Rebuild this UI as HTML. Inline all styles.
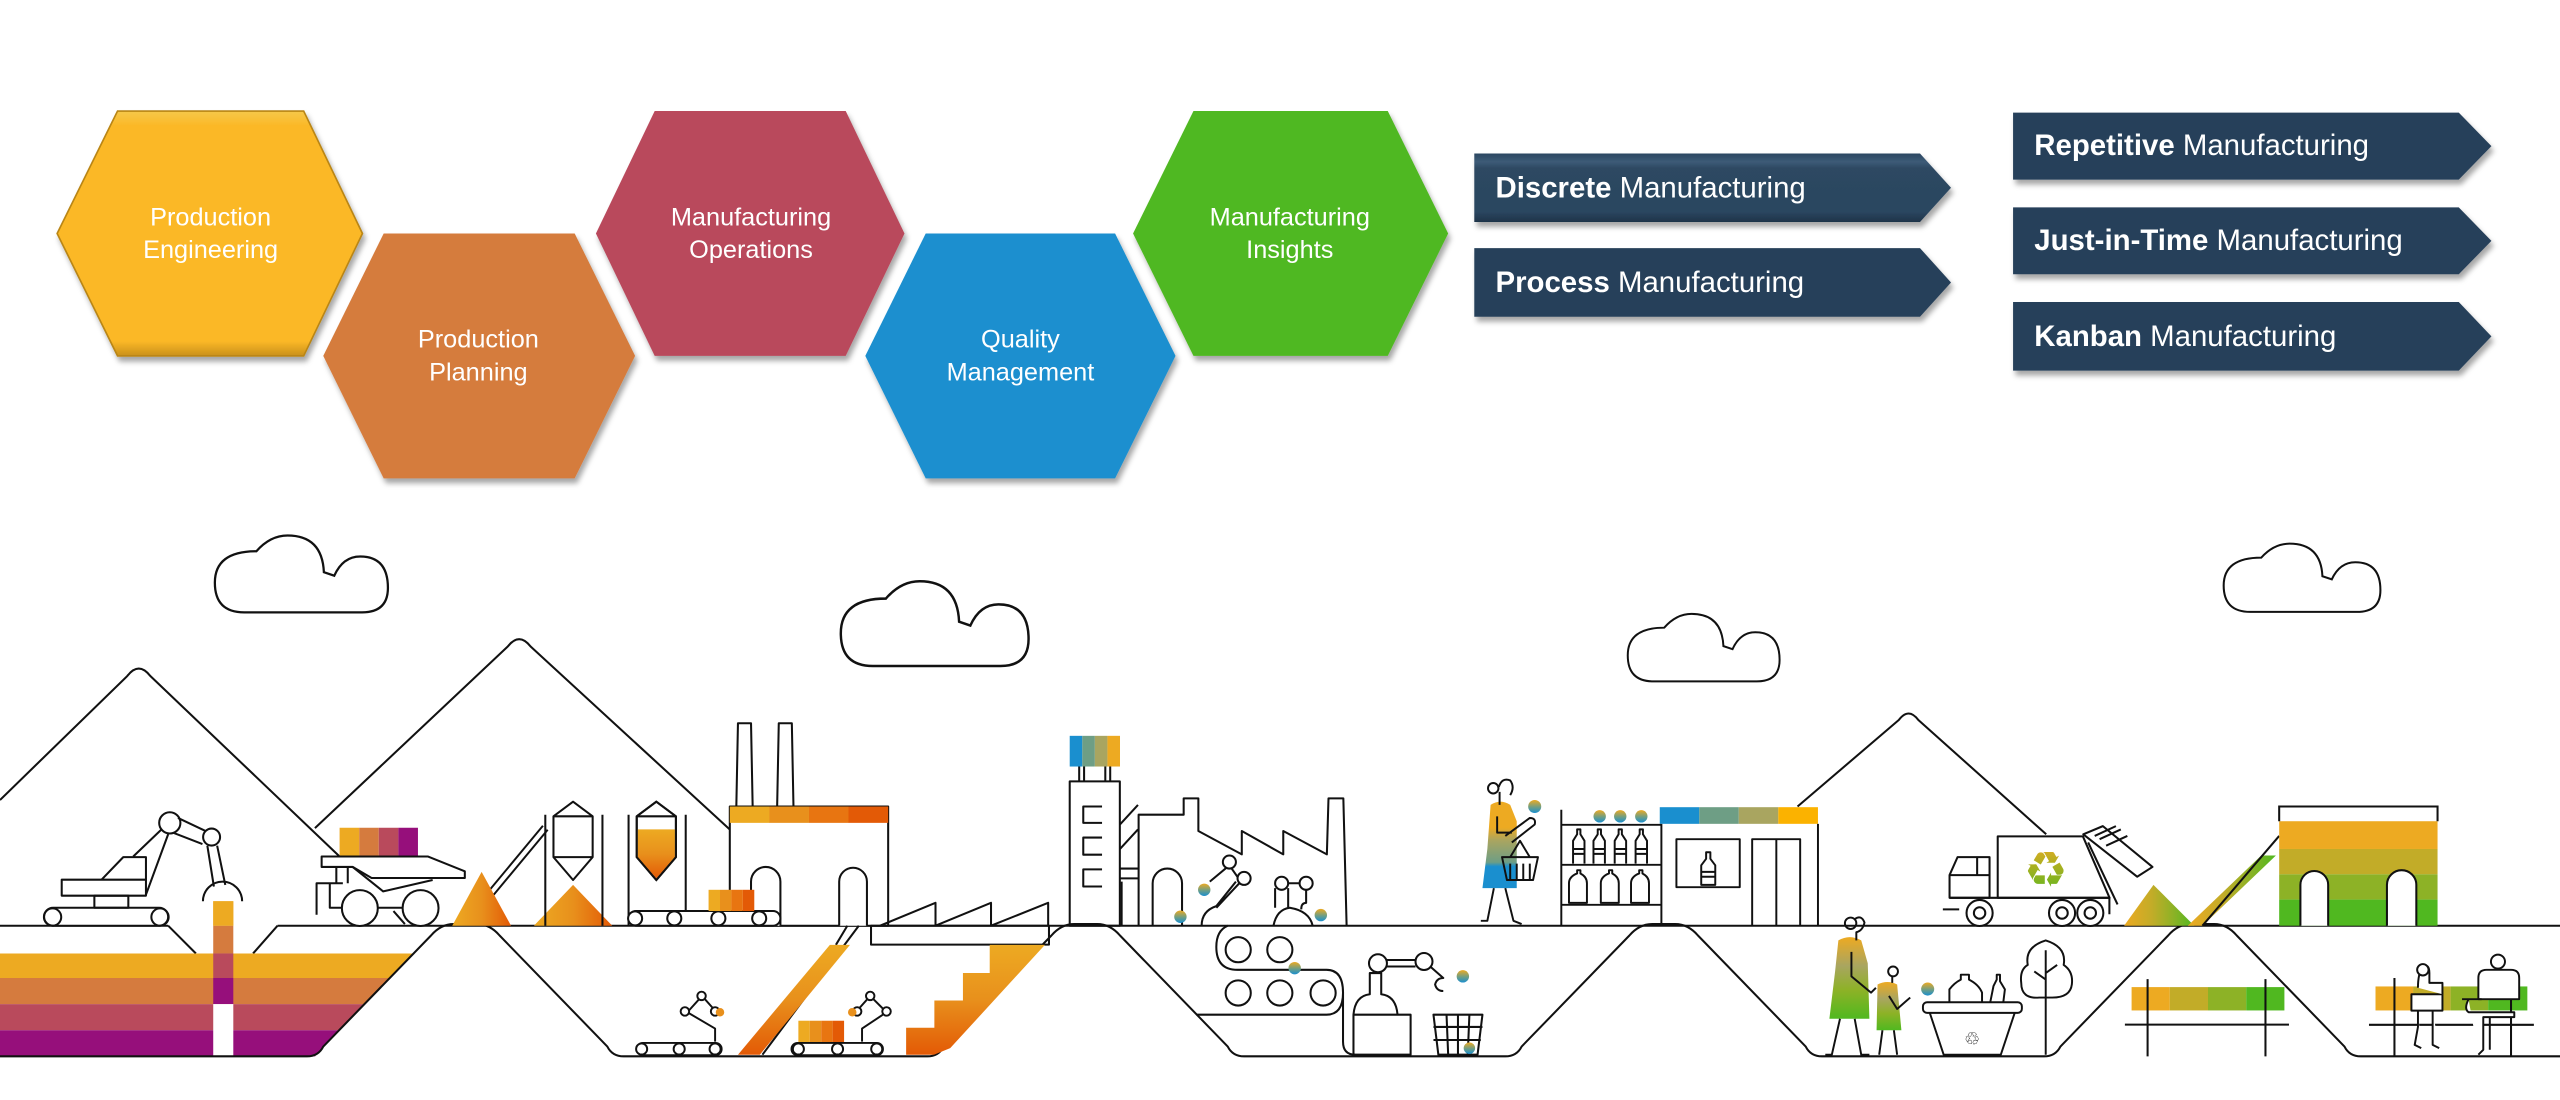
<!DOCTYPE html>
<html><head><meta charset="utf-8"><style>
html,body{margin:0;padding:0;background:#fff;overflow:hidden;width:2560px;height:1100px}
svg{display:block}
.t{font-family:"Liberation Sans",sans-serif;fill:#fff}
</style></head><body>
<svg width="2560" height="1100" viewBox="0 0 1568 673.75" preserveAspectRatio="none" xmlns="http://www.w3.org/2000/svg">
<defs>
<filter id="sh" x="-10%" y="-10%" width="130%" height="140%"><feDropShadow dx="1.5" dy="3" stdDeviation="1.6" flood-color="#000" flood-opacity=".35"/></filter>
<linearGradient id="gCone" x1="0" y1="0" x2="1" y2="0"><stop offset="0" stop-color="#EDAA22"/><stop offset=".5" stop-color="#E8901C"/><stop offset="1" stop-color="#E35A06"/></linearGradient>
<linearGradient id="gOr" x1="0" y1="0" x2="0" y2="1"><stop offset="0" stop-color="#EDAA22"/><stop offset=".5" stop-color="#E8901C"/><stop offset="1" stop-color="#E35A06"/></linearGradient>
<linearGradient id="gBall" x1="0" y1="0" x2="0" y2="1"><stop offset="0" stop-color="#EDAA22"/><stop offset=".55" stop-color="#6E9E85"/><stop offset="1" stop-color="#1A8FCF"/></linearGradient>
<linearGradient id="gWoman" x1="0" y1="0" x2="0" y2="1"><stop offset="0" stop-color="#EDAA22"/><stop offset=".3" stop-color="#EDAA22"/><stop offset=".45" stop-color="#A9A560"/><stop offset=".7" stop-color="#6E9E85"/><stop offset=".75" stop-color="#1A8FCF"/><stop offset="1" stop-color="#1A8FCF"/></linearGradient>
<linearGradient id="gMom" x1="0" y1="0" x2="0" y2="1"><stop offset="0" stop-color="#EDAA22"/><stop offset=".35" stop-color="#A9A560"/><stop offset=".65" stop-color="#8DB226"/><stop offset="1" stop-color="#50B820"/></linearGradient>
<linearGradient id="gPile" x1="0" y1="0" x2="1" y2="0"><stop offset="0" stop-color="#EDAA22"/><stop offset=".4" stop-color="#C2AC28"/><stop offset=".7" stop-color="#8DB226"/><stop offset="1" stop-color="#50B820"/></linearGradient>
<linearGradient id="gRec" x1="0" y1="0" x2="0" y2="1"><stop offset="0" stop-color="#EDAA22"/><stop offset="1" stop-color="#50B820"/></linearGradient>
<linearGradient id="gBan" x1="0" y1="0" x2="0" y2="1"><stop offset="0" stop-color="#2B4761"/><stop offset=".12" stop-color="#3D5B77"/><stop offset=".22" stop-color="#2D4862"/><stop offset=".85" stop-color="#2B4660"/><stop offset="1" stop-color="#1E3348"/></linearGradient>
<linearGradient id="gHex" x1="0" y1="0" x2="0" y2="1"><stop offset="0" stop-color="#F6C84A"/><stop offset=".06" stop-color="#FBB827"/><stop offset=".94" stop-color="#FBB827"/><stop offset="1" stop-color="#C9901A"/></linearGradient>
<path id="cl" d="M17,44 Q0,44 0,27 Q0,9 24,9 Q32,0 42,0 Q62,0 63,21 L69,23 Q74,12 84,12 Q100,12 100,30 Q100,44 85,44 Z"/>
</defs>

<g filter="url(#sh)">
<polygon points="35,143 72,68 186,68 222,143 186,218 72,218" fill="url(#gHex)" stroke="#B98512" stroke-width="1"/>
<polygon points="198,218 235,143 352,143 389,218 352,293 235,293" fill="#D57B3E"/>
<polygon points="365,143 401,68 518,68 554,143 518,218 401,218" fill="#B94A5C"/>
<polygon points="530,218 567,143 683,143 720,218 683,293 567,293" fill="#1A8FCF"/>
<polygon points="694,143 731,68 850,68 887,143 850,218 731,218" fill="#50B820"/>
</g>
<g class="t" font-size="15.5" text-anchor="middle">
<text x="129" y="138">Production</text><text x="129" y="158">Engineering</text>
<text x="293" y="213">Production</text><text x="293" y="233">Planning</text>
<text x="460" y="138">Manufacturing</text><text x="460" y="158">Operations</text>
<text x="625" y="213">Quality</text><text x="625" y="233">Management</text>
<text x="790" y="138">Manufacturing</text><text x="790" y="158">Insights</text>
</g>

<g filter="url(#sh)">
<polygon points="903,94 1176,94 1195,115 1176,136 903,136" fill="url(#gBan)"/>
<polygon points="903,152 1176,152 1195,173 1176,194 903,194" fill="#28415A"/>
<polygon points="1233,69 1506,69 1526,89.5 1506,110 1233,110" fill="#28415A"/>
<polygon points="1233,127 1506,127 1526,147.5 1506,168 1233,168" fill="#28415A"/>
<polygon points="1233,185 1506,185 1526,206 1506,227 1233,227" fill="#28415A"/>
</g>
<g class="t" font-size="18">
<text x="916" y="121"><tspan font-weight="bold">Discrete</tspan> Manufacturing</text>
<text x="916" y="179"><tspan font-weight="bold">Process</tspan> Manufacturing</text>
<text x="1246" y="95"><tspan font-weight="bold">Repetitive</tspan> Manufacturing</text>
<text x="1246" y="153"><tspan font-weight="bold">Just-in-Time</tspan> Manufacturing</text>
<text x="1246" y="212"><tspan font-weight="bold">Kanban</tspan> Manufacturing</text>
</g>

<g fill="#fff" stroke="#111" stroke-width="1.3">
<use href="#cl" transform="translate(131.6,328) scale(1.06,1.07)"/>
<use href="#cl" transform="translate(515,356) scale(1.15,1.18)"/>
<use href="#cl" transform="translate(997,376) scale(0.93,0.94)"/>
<use href="#cl" transform="translate(1362,333) scale(0.96,0.95)"/>
</g>

<g fill="none" stroke="#111" stroke-width="1.25" stroke-linejoin="round">
<path d="M0,490 L78,414 Q85,405 92,414 L208,524.6"/>
<path d="M192.9,507.2 L311,396 Q318,387 325,396 L448,509"/>
<path d="M1101,494 L1163,441 Q1169,433 1175,441 L1253.3,511"/>
<path d="M0,567 H103 M170,567 H1568"/>
<path d="M103,567 L120,584 M170,567 L155,584"/>
</g>

<polygon points="0,584 253,584 239,599 0,599" fill="#EDAA22"/>
<polygon points="0,599 239,599 223,615 0,615" fill="#D57B3E"/>
<polygon points="0,615 223,615 208,631 0,631" fill="#B94A5C"/>
<polygon points="0,631 208,631 198,641 193,647 0,647" fill="#960F7B"/>
<rect x="130.6" y="552" width="12.3" height="15" fill="#EDAA22"/>
<rect x="130.6" y="567" width="12.3" height="17" fill="#D57B3E"/>
<rect x="130.6" y="584" width="12.3" height="15" fill="#B94A5C"/>
<rect x="130.6" y="599" width="12.3" height="16" fill="#960F7B"/>
<rect x="130.6" y="615" width="12.3" height="32" fill="#fff"/>

<g fill="none" stroke="#111" stroke-width="1.25" stroke-linejoin="round">
<path d="M0,647 H188 Q195,647 198,641 L264,573 Q270,566 278,566 H292 Q300,566 306,573 L372,641 Q375,647 382,647 H568 Q575,647 578,641 L644,573 Q650,566 658,566 H672 Q680,566 686,573 L752,641 Q755,647 762,647 H922 Q929,647 932,641 L998,573 Q1004,566 1012,566 H1026 Q1034,566 1040,573 L1106,641 Q1109,647 1116,647 H1252 Q1259,647 1262,641 L1328,573 Q1334,566 1342,566 H1356 Q1364,566 1370,573 L1436,641 Q1439,647 1446,647 H1568"/>

<rect x="27" y="556" width="76" height="11" rx="5.5" fill="#fff"/>
<circle cx="32.2" cy="561.7" r="5.3"/><circle cx="98" cy="561.7" r="5.3"/>
<rect x="57.8" y="548.6" width="20.8" height="7.4"/>
<rect x="37.8" y="538.8" width="51.6" height="9.8"/>
<path d="M62.2,538.8 L75.5,525 H89.4 V538.8"/>
<path d="M81.6,524.6 L100,507 M89.4,548 L103,511"/>
<circle cx="104" cy="504" r="6.5" fill="#fff"/>
<path d="M109,501 L126,509 M106,510 L124,517"/>
<circle cx="129.6" cy="512.7" r="5.2" fill="#fff"/>
<path d="M127,518 L131,543 M133,518 L138,542"/>
<path d="M124.3,552 A12,12 0 0 1 148.3,552"/>
</g>
<rect x="130.6" y="552" width="12.3" height="15" fill="#EDAA22"/>

<rect x="208" y="507" width="12" height="17.6" fill="#EDAA22"/>
<rect x="220" y="507" width="12" height="17.6" fill="#D57B3E"/>
<rect x="232" y="507" width="12" height="17.6" fill="#B94A5C"/>
<rect x="244" y="507" width="12" height="17.6" fill="#960F7B"/>
<g fill="none" stroke="#111" stroke-width="1.25" stroke-linejoin="round">
<path d="M197,524.6 H262 L284.7,533.7 V537.8 H227.6 L216,531 H197 Z" fill="#fff"/>
<path d="M206,531 V541 M213,531 V541 M216,531 L234.7,546 L265,539"/>
<path d="M193.9,560.3 V541 H210 M202,541 V556 H212"/>
<circle cx="220.4" cy="556.2" r="11" fill="#fff"/><circle cx="257.6" cy="556.2" r="11" fill="#fff"/>
<path d="M231,556 H247 M241,558 L248,566"/>
</g>

<path d="M290,560 L334,507" stroke="#111" stroke-width="5"/>
<path d="M290,560 L334,507" stroke="#fff" stroke-width="2.6"/>
<polygon points="277,567 295,534 313,567" fill="url(#gCone)"/>
<polygon points="327,567 351,542 375,567" fill="url(#gCone)"/>

<g fill="#fff" stroke="#111" stroke-width="1.25" stroke-linejoin="round">
<path d="M334,499 V567 M369,499 V567 M385,499 V567 M420,499 V567" fill="none"/>
<path d="M339,500 L351,491 L363,500 V525 L351,539 L339,525 Z"/>
<path d="M339,500 H363 M339,525 H363" fill="none"/>
<path d="M390,500 L402,491 L414,500 V525 L402,539 L390,525 Z"/>
</g>
<path d="M390.6,508 H413.4 V525 L402,538 L390.6,525 Z" fill="url(#gOr)"/>
<path d="M390,500 L402,491 L414,500 V525 L402,539 L390,525 Z M390,500 H414" fill="none" stroke="#111" stroke-width="1.25"/>

<g fill="#fff" stroke="#111" stroke-width="1.25" stroke-linejoin="round">
<path d="M451,494 L452,443 H460 L461,494 M476,494 L477,443 H485 L486,494"/>
<rect x="447" y="494" width="97" height="73"/>
<path d="M460,567 V540 A9,9 0 0 1 478,540 V567 M514,567 V540 A8.5,8.5 0 0 1 531,540 V567"/>
<rect x="385" y="558" width="93" height="9" rx="4.5"/>
<circle cx="389" cy="562.5" r="4.3"/><circle cx="413" cy="562.5" r="4.3"/><circle cx="440" cy="562.5" r="4.3"/><circle cx="465" cy="562.5" r="4.3"/>
</g>
<rect x="447" y="494" width="24.3" height="10" fill="#EDAA22"/>
<rect x="471.2" y="494" width="24.3" height="10" fill="#E8901C"/>
<rect x="495.5" y="494" width="24.3" height="10" fill="#E87511"/>
<rect x="519.7" y="494" width="24.3" height="10" fill="#E35A06"/>
<rect x="434" y="545" width="7" height="13" fill="#EDAA22"/><rect x="441" y="545" width="7" height="13" fill="#E8901C"/><rect x="448" y="545" width="7" height="13" fill="#E87511"/><rect x="455" y="545" width="7" height="13" fill="#E35A06"/>

<g fill="none" stroke="#111" stroke-width="1.25" stroke-linejoin="round">
<path d="M539,567 L573,553 V567 M573,567 L607,553 V567 M607,567 L642,553 V567"/>
<rect x="533.5" y="567" width="109" height="11.6"/>
<path d="M519,567 L512,578.7 M526,567 L467,646"/>
</g>
<polygon points="508.3,578.7 520.6,578.7 465.4,646 452,646" fill="url(#gOr)"/>
<polygon points="606.2,578.7 640,578.7 582,642 572,646 555,646 555,629.5 572.3,629.5 572.3,612.8 589.8,612.8 589.8,596 606.2,596" fill="url(#gOr)"/>
<rect x="489" y="625.2" width="7" height="13.8" fill="#EDAA22"/><rect x="496" y="625.2" width="7" height="13.8" fill="#E8901C"/><rect x="503" y="625.2" width="7" height="13.8" fill="#E87511"/><rect x="510" y="625.2" width="7" height="13.8" fill="#E35A06"/>
<g fill="#fff" stroke="#111" stroke-width="1.2" stroke-linejoin="round">
<rect x="390" y="638.8" width="52" height="7.5" rx="3.7"/>
<circle cx="393" cy="642.5" r="3.4"/><circle cx="416" cy="642.5" r="3.4"/><circle cx="438" cy="642.5" r="3.4"/>
<rect x="484.8" y="638.8" width="56" height="7.5" rx="3.7"/>
<circle cx="489" cy="642.5" r="3.4"/><circle cx="513" cy="642.5" r="3.4"/><circle cx="537" cy="642.5" r="3.4"/>
<path d="M438,638 L438,630 L421,620 L430,610 L438,619 M528,638 L528,630 L543,620 L533,610 L525,619" fill="none"/>
<circle cx="429.7" cy="610" r="2.6"/><circle cx="419.5" cy="619.5" r="2.6"/><circle cx="438" cy="619.5" r="2.6"/>
<circle cx="533" cy="610" r="2.6"/><circle cx="543" cy="619.5" r="2.6"/><circle cx="525" cy="619.5" r="2.6"/>
</g>
<circle cx="441" cy="620" r="2.6" fill="#E8901C"/><circle cx="522" cy="620" r="2.6" fill="#E8901C"/>

<rect x="655.2" y="450.7" width="7.7" height="18.8" fill="#1A8FCF"/><rect x="662.9" y="450.7" width="7.7" height="18.8" fill="#6E9E85"/><rect x="670.6" y="450.7" width="7.7" height="18.8" fill="#A9A560"/><rect x="678.3" y="450.7" width="7.7" height="18.8" fill="#EDAA22"/>
<g fill="none" stroke="#111" stroke-width="1.25" stroke-linejoin="round">
<path d="M661,469.5 V478.6 M664,469.5 V478.6 M677,469.5 V478.6 M680,469.5 V478.6"/>
<rect x="655.2" y="478.6" width="30.7" height="88.4"/>
<path d="M675,494 H663.5 V504 H675 M675,513 H663.5 V523.5 H675 M675,532.5 H663.5 V543 H675"/>
<path d="M686,505 L697,493 M686,520 L697,508 M686,532 H697 M686,538 H697 M687,540 V567"/>
<path d="M697.4,567 V499 H725 V489 H734 V509 L760.6,523.3 V509 L786,523.3 V509 L812.7,523.3 L813.7,489 H822.8 L824.8,567"/>
<path d="M706,567 V541 A9,9 0 0 1 724,541 V567"/>
<path d="M736,567 Q736,558 745,555 L757,540 M745,556 L760,540 M760,540 L753,530 L741,540"/>
<circle cx="753" cy="528" r="4" fill="#fff"/><circle cx="762" cy="538" r="4" fill="#fff"/>
<path d="M780,567 Q782,557 790,556 Q802,558 804,567 M781,556 V544 M789,556 V544"/>
<circle cx="785" cy="541" r="4" fill="#fff"/><circle cx="800" cy="541" r="4" fill="#fff"/><path d="M789,541 H796 M800,545 V553 Q797,553 797,557"/>
</g>
<circle cx="737.6" cy="545" r="3.8" fill="url(#gBall)"/><circle cx="723" cy="561.5" r="3.8" fill="url(#gBall)"/><circle cx="809" cy="560.5" r="3.8" fill="url(#gBall)"/>

<g fill="none" stroke="#111" stroke-width="1.25" stroke-linejoin="round">
<path d="M752,567 Q745,570 745,580 Q745,594 758,594 H812.5 Q822.6,594 822.6,608 Q822.6,621.5 812.5,621.5 H732.8"/>
<path d="M822.6,608 V638 Q822.6,646 830,646"/>
<circle cx="758.4" cy="581.7" r="7.7"/><circle cx="783.9" cy="581.7" r="7.7"/>
<circle cx="758.4" cy="608.2" r="7.7"/><circle cx="783.9" cy="608.2" r="7.7"/><circle cx="810.4" cy="608.2" r="7.7"/>
<rect x="829" y="621.5" width="35" height="24.5"/>
<path d="M829,621.5 Q830,610 839,609 V596 H846 V609 Q855,610 856,621.5"/>
<circle cx="844" cy="590" r="5.5" fill="#fff"/><circle cx="872.2" cy="588.9" r="5.2" fill="#fff"/>
<path d="M849,588 H867 M849,592 H867 M876,592 L884,599 Q880,599 879,603 Q880,607 884,607"/>
<path d="M878,621.5 H908 L905,646 H881 Z M878,629 H908 M878,637 H907 M886,621.5 L887,646 M893,621.5 V646 M900,621.5 L899,646"/>
</g>
<circle cx="793" cy="593" r="3.8" fill="url(#gBall)"/><circle cx="896" cy="598" r="3.8" fill="url(#gBall)"/><circle cx="900" cy="642" r="3.5" fill="url(#gBall)"/>

<path d="M913,493 Q919,489 925,493 L929,503 L929,544 L908,544 L911,520 Z" fill="url(#gWoman)"/>
<circle cx="940" cy="494" r="4" fill="url(#gBall)"/>
<g fill="none" stroke="#111" stroke-width="1.2" stroke-linejoin="round">
<circle cx="914.6" cy="482.8" r="3.2"/><path d="M918,482 Q920,476 925,478 Q928,482 925,487 M918.5,485 V493"/>
<path d="M917,500 V510 H926 M922,512 L937,501 Q941,501 940,505 L926,516"/>
<path d="M920,525 H942 L939,539 H923 Z M925,525 L931,515 L937,525 M925,529 V539 M929,529 V539 M933,529 V539 M937,529 V539"/>
<path d="M915,544 L911,564 L907,564 M922,544 L927,564 L932,566"/>
</g>

<rect x="1016.6" y="494.4" width="24.2" height="10.2" fill="#1A8FCF"/><rect x="1040.8" y="494.4" width="24.2" height="10.2" fill="#6E9E85"/><rect x="1065" y="494.4" width="24.2" height="10.2" fill="#A9A560"/><rect x="1089.2" y="494.4" width="24.3" height="10.2" fill="#FBB200"/>
<circle cx="979.8" cy="500" r="3.8" fill="url(#gBall)"/><circle cx="992.4" cy="500" r="3.8" fill="url(#gBall)"/><circle cx="1005.3" cy="500" r="3.8" fill="url(#gBall)"/>
<g fill="none" stroke="#111" stroke-width="1.2" stroke-linejoin="round">
<path d="M956.3,496 V567 M956.3,505.2 H1017.6 M956.3,529.7 H1017.6 M956.3,554.2 H1017.6 M1017.6,504.6 V567 M1113.5,504.6 V567"/>
<rect x="1026.8" y="514" width="38.8" height="29.4"/>
<path d="M1073.2,567 V514 H1102.6 V567 M1088,514 V567"/>
<path d="M963.5,529 V515 L966,511 V508 H968 V511 L970.5,515 V529 M963.5,520 H970.5 M963.5,523 H970.5"/>
<path d="M976,529 V515 L978.6,511 V508 H980.6 V511 L983,515 V529 M976,520 H983 M976,523 H983"/>
<path d="M989,529 V515 L991.4,511 V508 H993.4 V511 L996,515 V529 M989,520 H996 M989,523 H996"/>
<path d="M1001.8,529 V515 L1004.3,511 V508 H1006.3 V511 L1008.8,515 V529 M1001.8,520 H1008.8 M1001.8,523 H1008.8"/>
<path d="M961,553 V541 Q961,537 966,535 V533 H968 V535 Q972,537 972,541 V553 Z M980.5,553 V541 Q980.5,537 985.5,535 V533 H987.5 V535 Q991.5,537 991.5,541 V553 Z M999,553 V541 Q999,537 1004,535 V533 H1006 V535 Q1010,537 1010,541 V553 Z"/>
<path d="M1042,542 V530 L1045,526 V522 H1047.6 V526 L1050.6,530 V542 Z M1042,534 H1050.6 M1042,537 H1050.6"/>
</g>

<g fill="#fff" stroke="#111" stroke-width="1.25" stroke-linejoin="round">
<path d="M1194.1,549.9 V536 L1199,525 H1218.6 V549.9 Z M1194.1,536 H1218.6 M1211,525 V536" fill="none"/>
<path d="M1223.6,549.9 V512.3 H1275.8 L1292.1,549.9 Z"/>
<path d="M1194.1,549.9 H1292.1 M1292,549.9 V560 M1190,557 H1200"/>
<path d="M1276,511 L1288,506 L1318.4,531 L1309,537 Z M1283,512 L1296,506 M1290,518 L1303,512 M1286,514 L1299,508"/>
<path d="M1279,516 L1297,554" fill="none"/>
<circle cx="1212.5" cy="559.2" r="8"/><circle cx="1212.5" cy="559.2" r="3.5"/>
<circle cx="1263" cy="559.2" r="8"/><circle cx="1263" cy="559.2" r="3.5"/>
<circle cx="1280.3" cy="559.2" r="8"/><circle cx="1280.3" cy="559.2" r="3.5"/>
</g>
<text x="1253" y="543" font-family="DejaVu Sans,sans-serif" font-size="30" text-anchor="middle" fill="url(#gRec)">♻</text>

<polygon points="1301,567 1319,542 1344,567" fill="url(#gPile)"/>
<polygon points="1340,567 1385,524 1394,524 1349,567" fill="url(#gPile)"/>
<path d="M1349,567 L1396,512" stroke="#111" stroke-width="1.25" fill="none"/>

<rect x="1396" y="503" width="97" height="17" fill="#EDAA22"/>
<rect x="1396" y="520" width="97" height="15.5" fill="#C2AC28"/>
<rect x="1396" y="535.5" width="97" height="15.5" fill="#8DB226"/>
<rect x="1396" y="551" width="97" height="16" fill="#50B820"/>
<g fill="#fff" stroke="#111" stroke-width="1.25">
<path d="M1396,503 V494 H1493 V503" fill="none"/>
<path d="M1409,567 V542 A8.5,8.5 0 0 1 1426,542 V567"/>
<path d="M1462,567 V542 A9,9 0 0 1 1480,542 V567"/>
</g>

<path d="M1126,576 Q1133,572 1140,576 L1144,590 L1145,624 L1120.5,624 L1124,595 Z" fill="url(#gMom)"/>
<path d="M1150,603 Q1156,600 1162,603 L1164.6,631 L1149.4,631 Z" fill="url(#gMom)"/>
<circle cx="1180.7" cy="605.8" r="4" fill="url(#gBall)"/>
<g fill="none" stroke="#111" stroke-width="1.2" stroke-linejoin="round">
<circle cx="1133.5" cy="565.5" r="3.5"/><path d="M1136,563 Q1140,560 1142,565 Q1141,570 1137,571 V576"/>
<path d="M1134,583 V598 L1146,608 L1149,605"/>
<path d="M1127,624 L1122,646 L1118,646 M1136,624 L1140,646 L1145,646"/>
<circle cx="1159.5" cy="595" r="3"/><path d="M1159,598 V602 M1157,610 L1162,618 L1170,611"/>
<path d="M1153,631 L1151,646 M1160,631 L1162,646"/>
<rect x="1177.8" y="613.9" width="60.6" height="6.5" rx="2.5" fill="#fff"/>
<path d="M1182,620.4 L1190.5,646 H1225.5 L1234,620.4"/>
<path d="M1194,614 V606 Q1197,602 1201,600 V597 H1206 V600 Q1212,603 1214,608 V614 M1219,614 L1221,604 L1223,600 V597 H1225 V601 L1228,606 L1227,614"/>
<text x="1208" y="640" font-family="DejaVu Sans,sans-serif" font-size="11" text-anchor="middle" fill="#111" stroke="none">♲</text>
<path d="M1253,646 V582 M1253,600 L1246,595 M1253,596 L1260,591"/>
<path d="M1249,611 Q1238,612 1238,602 Q1237,594 1242,591 Q1240,580 1253,576 Q1266,580 1264,591 Q1270,595 1269,603 Q1268,611 1257,611 Z"/>
</g>

<rect x="1305.6" y="604.6" width="23.4" height="14.3" fill="#EDAA22"/><rect x="1329" y="604.6" width="23.4" height="14.3" fill="#C2AC28"/><rect x="1352.4" y="604.6" width="23.4" height="14.3" fill="#8DB226"/><rect x="1375.8" y="604.6" width="23.4" height="14.3" fill="#50B820"/>
<rect x="1455" y="604.2" width="23" height="14.7" fill="#EDAA22"/><rect x="1478" y="604.2" width="23" height="14.7" fill="#C2AC28"/><rect x="1501" y="604.2" width="23" height="14.7" fill="#8DB226"/><rect x="1524" y="604.2" width="24" height="14.7" fill="#50B820"/>
<g fill="none" stroke="#111" stroke-width="1.25" stroke-linejoin="round">
<path d="M1301.5,627.6 H1402 M1315.4,599.7 V647 M1387.6,599.7 V647"/>
<path d="M1451,627.7 H1552 M1466.6,599 V647 M1538,599 V647"/>
</g>
<g fill="#fff" stroke="#111" stroke-width="1.2" stroke-linejoin="round">
<path d="M1477,609 H1496 V619 H1477 Z M1481,619 V629 L1479,640 L1483,642 M1490,619 V629 L1490,640 L1494,642" />
<path d="M1481,605 Q1481,596 1484,592 Q1488,590 1488,596 V602 H1496 V609"/>
<circle cx="1484" cy="594" r="3.5"/>
<path d="M1520,612 H1543 V599 Q1543,594 1538,594 H1523 Q1518,594 1518,599 V612 Z"/>
<circle cx="1530" cy="589" r="4.3"/>
<path d="M1508,612 H1520 M1512,612 Q1509,618 1512,620 H1540 V623 H1521 V643 L1518,646 M1525,623 V643"/>
</g>
</svg>
</body></html>
